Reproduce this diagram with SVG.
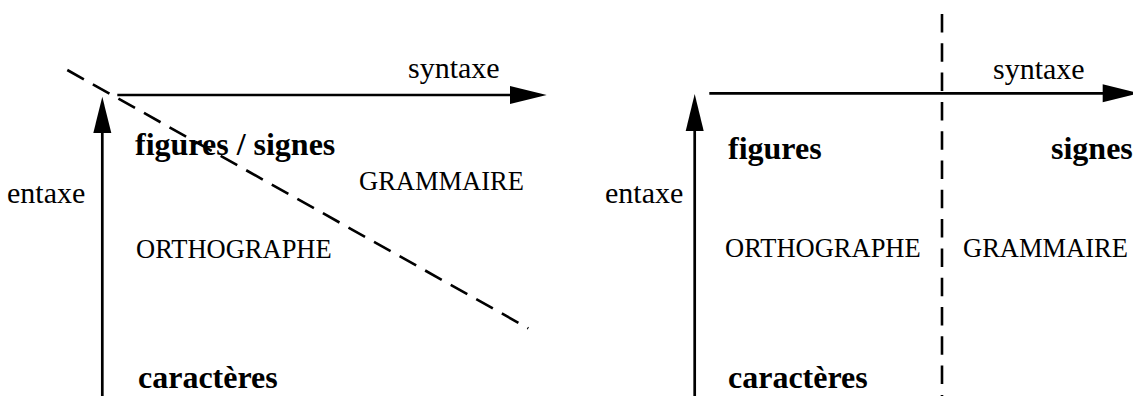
<svg xmlns="http://www.w3.org/2000/svg" width="1133" height="396" viewBox="0 0 1133 396">
<style>
.ax{stroke:#000;stroke-width:2.7;fill:none}
.dash{stroke:#000;stroke-width:2.6;fill:none;stroke-dasharray:19 10.3}
.head{fill:#000;stroke:none}
text{font-family:"Liberation Serif","Times New Roman",serif;fill:#000}
.lc{font-size:30px}
.b{font-size:32px;font-weight:bold}
.cap{font-size:26.5px}
</style>
<rect width="1133" height="396" fill="#fff"/>
<g id="connectors">
<line class="ax" x1="102.3" y1="396" x2="102.3" y2="128"/>
<polygon class="head" points="102.3,96.7 93.3,133 111.3,133"/>
<line class="ax" x1="117.3" y1="95" x2="512" y2="95"/>
<polygon class="head" points="546.7,95 510,86 510,104"/>
<line class="dash" x1="67.3" y1="70" x2="528.3" y2="328.3"/>
<line class="ax" x1="694.7" y1="396" x2="694.7" y2="128"/>
<polygon class="head" points="694.7,94 685.7,131 703.7,131"/>
<line class="ax" x1="709.3" y1="93.3" x2="1105" y2="93.3"/>
<polygon class="head" points="1139,93.3 1102.7,84.3 1102.7,102.3"/>
<line class="dash" x1="942" y1="14" x2="942" y2="396" style="stroke-dasharray:18.5 10.8"/>
</g>
<g id="left-syntaxe"><text class="lc" x="408" y="78">syntaxe</text></g>
<g id="left-figures-signes"><text class="b" x="135" y="155">figures / signes</text></g>
<g id="left-grammaire"><text class="cap" x="359" y="190">GRAMMAIRE</text></g>
<g id="left-entaxe"><text class="lc" x="7" y="203">entaxe</text></g>
<g id="left-orthographe"><text class="cap" x="136" y="258">ORTHOGRAPHE</text></g>
<g id="left-caracteres"><text class="b" x="138" y="388">caractères</text></g>
<g id="right-syntaxe"><text class="lc" x="993" y="79">syntaxe</text></g>
<g id="right-figures"><text class="b" x="728" y="159">figures</text></g>
<g id="right-signes"><text class="b" x="1051" y="159">signes</text></g>
<g id="right-entaxe"><text class="lc" x="605" y="203">entaxe</text></g>
<g id="right-orthographe"><text class="cap" x="725" y="257">ORTHOGRAPHE</text></g>
<g id="right-grammaire"><text class="cap" x="963" y="257">GRAMMAIRE</text></g>
<g id="right-caracteres"><text class="b" x="728" y="388">caractères</text></g>
</svg>
